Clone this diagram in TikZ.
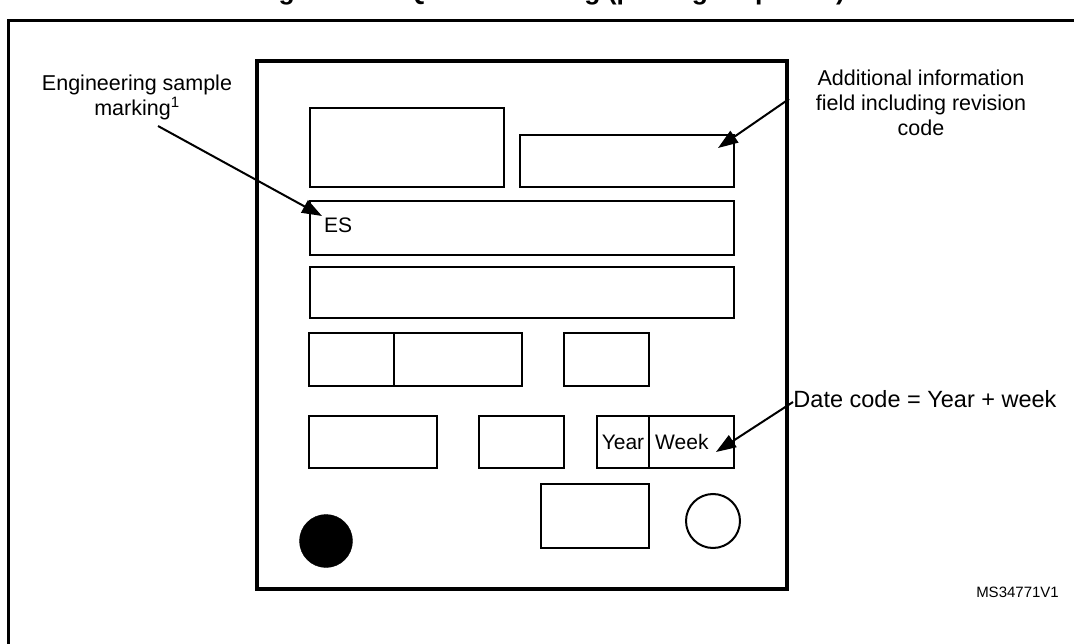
\documentclass[tikz,border=0pt]{standalone}
\usepackage{fontspec}
\setmainfont{Liberation Sans}
\usetikzlibrary{arrows.meta}
\begin{document}
\begin{tikzpicture}[x=1pt,y=-1pt,
  box/.style={draw, line width=2pt, anchor=north west, inner sep=0pt, outer sep=0pt},
  lbl/.style={font=\fontsize{21.5}{25}\selectfont, align=center, inner sep=0pt},
  ptr/.style={line width=2pt, -{Triangle[length=20pt,width=14pt]}},
]
\useasboundingbox (0,0) rectangle (1074,644);
\begin{scope}
\clip (0,0) rectangle (1074,644);
\node[font=\bfseries\fontsize{26.5}{30}\selectfont, anchor=base, inner sep=0pt] (title) at (550,0) {Figure 60. LQFP64 marking (package top view)};
\draw[line width=3pt] (8,700) -- (8,21) -- (1090,21);
\end{scope}

% package outline
\node[box, line width=3.5pt, minimum width=530pt, minimum height=528pt] (chip) at (257,61) {};

% marking fields
\node[box, minimum width=194pt, minimum height=79pt] (f1) at (310,108) {};
\node[box, minimum width=214pt, minimum height=52pt] (f2) at (520,135) {};
\node[box, minimum width=424pt, minimum height=54pt] (es) at (310,201) {};
\node[anchor=west, inner sep=0pt, font=\fontsize{21}{25}\selectfont] (estxt) at (324,225) {ES};
\node[box, minimum width=424pt, minimum height=51pt] (f4) at (310,267) {};

\node[box, minimum width=85pt, minimum height=53pt] (r1a) at (309,333) {};
\node[box, minimum width=128pt, minimum height=53pt] (r1b) at (394,333) {};
\node[box, minimum width=85pt, minimum height=53pt] (r1c) at (564,333) {};

\node[box, minimum width=128pt, minimum height=52pt] (r2a) at (309,416) {};
\node[box, minimum width=85pt, minimum height=52pt] (r2b) at (479,416) {};
\node[box, minimum width=52pt, minimum height=52pt] (year) at (597,416) {};
\node[box, minimum width=85pt, minimum height=52pt] (week) at (649,416) {};
\node[inner sep=0pt, font=\fontsize{21}{25}\selectfont] (yeartxt) at (year.center) {Year};
\node[anchor=west, inner sep=0pt, font=\fontsize{21}{25}\selectfont] (weektxt) at (655,442) {Week};

\node[box, minimum width=108pt, minimum height=64pt] (sq) at (541,484) {};
\node[circle, fill=black, draw=black, inner sep=0pt, minimum size=53pt] (pin1) at (326,541) {};
\node[circle, draw=black, line width=2pt, inner sep=0pt, minimum size=54pt] (ring) at (713,521) {};

% labels
\node[lbl] (eng) at (137,97) {Engineering sample\\marking\textsuperscript{1}};
\node[lbl] (add) at (921,103) {Additional information\\field including revision\\code};
\node[inner sep=0pt, font=\fontsize{23.5}{27}\selectfont] (date) at (925,399) {Date code = Year + week};
\node[anchor=east, inner sep=0pt, font=\fontsize{15}{18}\selectfont] (ms) at (1059,592) {MS34771V1};

% pointers
\coordinate (engFrom) at (158,126);
\coordinate (esTip) at (322,216);
\coordinate (addFrom) at (789,99);
\coordinate (addTip) at (718,148);
\coordinate (dateFrom) at (793,402);
\coordinate (dateTip) at (716,452);
\draw[ptr] (engFrom) -- (esTip);
\draw[ptr] (addFrom) -- (addTip);
\draw[ptr] (dateFrom) -- (dateTip);
\end{tikzpicture}
\end{document}
